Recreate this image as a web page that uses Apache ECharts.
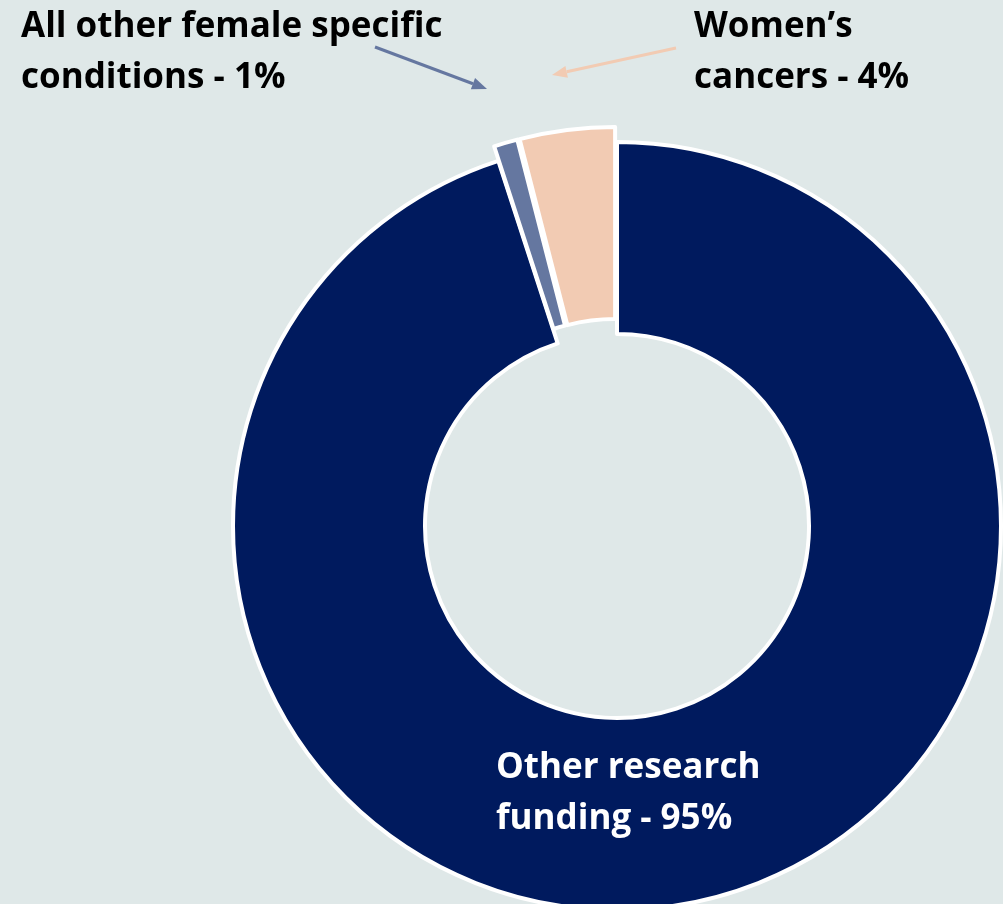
<!DOCTYPE html>
<html>
<head>
<meta charset="utf-8">
<title>Research funding</title>
<script src="https://cdn.jsdelivr.net/npm/echarts@6/dist/echarts.min.js"></script>
<style>
  html, body { margin: 0; padding: 0; background: #dfe8e8; }
  #chart { width: 1003px; height: 904px; }
</style>
</head>
<body>
<div id="chart"></div>
<script>
// data
var categories = ['Other research\nfunding', 'All other female specific\nconditions', 'Women\u2019s\ncancers']
var shares = [95, 1, 4]
var colors = ['#001a5e', '#6577a0', '#f2cbb3']
var labelColors = ['#ffffff', '#000000', '#000000']

// label anchors (left/top of text block)
var labelPos = [
  { x: 496, y: 743 },
  { x: 21, y: 2 },
  { x: 694, y: 2 }
]

function arrow(x1, y1, x2, y2, color) {
  var ang = Math.atan2(y2 - y1, x2 - x1)
  var len = 15, half = 6
  var bx = x2 - len * Math.cos(ang), by = y2 - len * Math.sin(ang)
  var px = -Math.sin(ang) * half, py = Math.cos(ang) * half
  return [
    {
      type: 'line', silent: true,
      shape: { x1: x1, y1: y1, x2: bx, y2: by },
      style: { stroke: color, lineWidth: 3 }
    },
    {
      type: 'polygon', silent: true,
      shape: { points: [[x2, y2], [bx + px, by + py], [bx - px, by - py]] },
      style: { fill: color }
    }
  ]
}

var labels = categories.map(function (name, i) {
  return {
    type: 'text',
    silent: true,
    z: 100,
    x: labelPos[i].x,
    y: labelPos[i].y,
    style: {
      text: name + ' - ' + shares[i] + '%',
      fill: labelColors[i],
      font: 'bold 35px "Open Sans", sans-serif',
      lineHeight: 51,
      align: 'left',
      verticalAlign: 'top'
    }
  }
})

var chart = echarts.init(document.getElementById('chart'))

chart.setOption({
  backgroundColor: '#dfe8e8',
  animation: false,
  graphic: [].concat(
    arrow(375, 47, 487, 89, '#6577a0'),
    arrow(676, 48, 552, 75, '#f2cbb3'),
    labels
  ),
  series: [
    {
      type: 'pie',
      center: [617, 526],
      radius: [192, 384],
      startAngle: 90,
      clockwise: true,
      selectedMode: 'multiple',
      selectedOffset: 15,
      itemStyle: { borderColor: '#ffffff', borderWidth: 4 },
      label: { show: false },
      labelLine: { show: false },
      emphasis: { disabled: true },
      data: categories.map(function (name, i) {
        return {
          name: name,
          value: shares[i],
          selected: i > 0,
          itemStyle: { color: colors[i] }
        }
      })
    }
  ]
})
</script>
</body>
</html>
